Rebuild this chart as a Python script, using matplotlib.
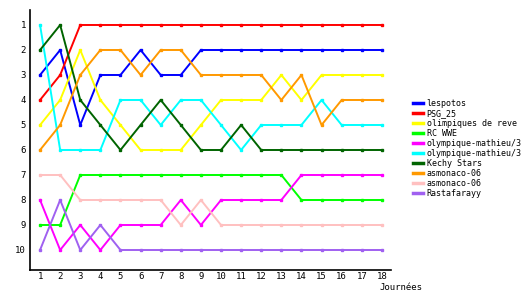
import matplotlib
matplotlib.use('Agg')
import matplotlib.pyplot as plt
from matplotlib.lines import Line2D

days = list(range(1, 19))

teams = ['lespotos', 'PSG_25', 'olimpiques de reve', 'RC WWE',
         'olympique-mathieu/3', 'olympique-mathieu/3', 'Kechy Stars',
         'asmonaco-06', 'asmonaco-06', 'Rastafarayy']
colors = ['#0000ff', '#ff0000', '#ffff00', '#00ff00', '#ff00ff',
          '#00ffff', '#006400', '#ff9900', '#ffc0c0', '#a060f0']

lespotos = [3, 2, 5, 3, 3, 2, 3, 3, 2, 2, 2, 2, 2, 2, 2, 2, 2, 2]
psg_25 = [4, 3, 1, 1, 1, 1, 1, 1, 1, 1, 1, 1, 1, 1, 1, 1, 1, 1]
olimpiques = [5, 4, 2, 4, 5, 6, 6, 6, 5, 4, 4, 4, 3, 4, 3, 3, 3, 3]
rc_wwe = [9, 9, 7, 7, 7, 7, 7, 7, 7, 7, 7, 7, 7, 8, 8, 8, 8, 8]
om3_a = [8, 10, 9, 10, 9, 9, 9, 8, 9, 8, 8, 8, 8, 7, 7, 7, 7, 7]
om3_b = [1, 6, 6, 6, 4, 4, 5, 4, 4, 5, 6, 5, 5, 5, 4, 5, 5, 5]
kechy = [2, 1, 4, 5, 6, 5, 4, 5, 6, 6, 5, 6, 6, 6, 6, 6, 6, 6]
asmonaco_a = [6, 5, 3, 2, 2, 3, 2, 2, 3, 3, 3, 3, 4, 3, 5, 4, 4, 4]
asmonaco_b = [7, 7, 8, 8, 8, 8, 8, 9, 8, 9, 9, 9, 9, 9, 9, 9, 9, 9]
rasta = [10, 8, 10, 9, 10, 10, 10, 10, 10, 10, 10, 10, 10, 10, 10, 10, 10, 10]

series = [lespotos, psg_25, olimpiques, rc_wwe, om3_a, om3_b,
          kechy, asmonaco_a, asmonaco_b, rasta]

plt.rcParams['font.family'] = 'DejaVu Sans Mono'

fig = plt.figure(figsize=(5.3, 3.0), dpi=100)
ax = fig.add_axes([0.0566, 0.1, 0.681, 0.8667])

for name, vals, c in zip(teams, series, colors):
    ax.plot(days, vals, color=c, lw=1.4, marker='s', ms=2,
            mec=c, mfc=c)

ax.set_xlim(0.5, 18.45)
ax.set_ylim(10.8, 0.4)
ax.set_xticks(days)
ax.set_yticks(range(1, 11))
ax.tick_params(length=0, labelsize=6.5)
ax.tick_params(axis='x', pad=1.5)
ax.tick_params(axis='y', pad=3)
for s in ['top', 'right']:
    ax.spines[s].set_visible(False)
ax.spines['left'].set_linewidth(1.2)
ax.spines['bottom'].set_linewidth(1.2)

fig.text(0.716, 0.042, 'Journées', fontsize=6.5, ha='left', va='center')

handles = [Line2D([], [], color=c, lw=2.5) for c in colors]
ax.legend(handles, teams, loc='upper left', bbox_to_anchor=(1.053, 0.67),
          frameon=False, fontsize=6, handlelength=1.2, handletextpad=0.4,
          labelspacing=0.12, borderaxespad=0)

fig.savefig('out.png', dpi=100)
